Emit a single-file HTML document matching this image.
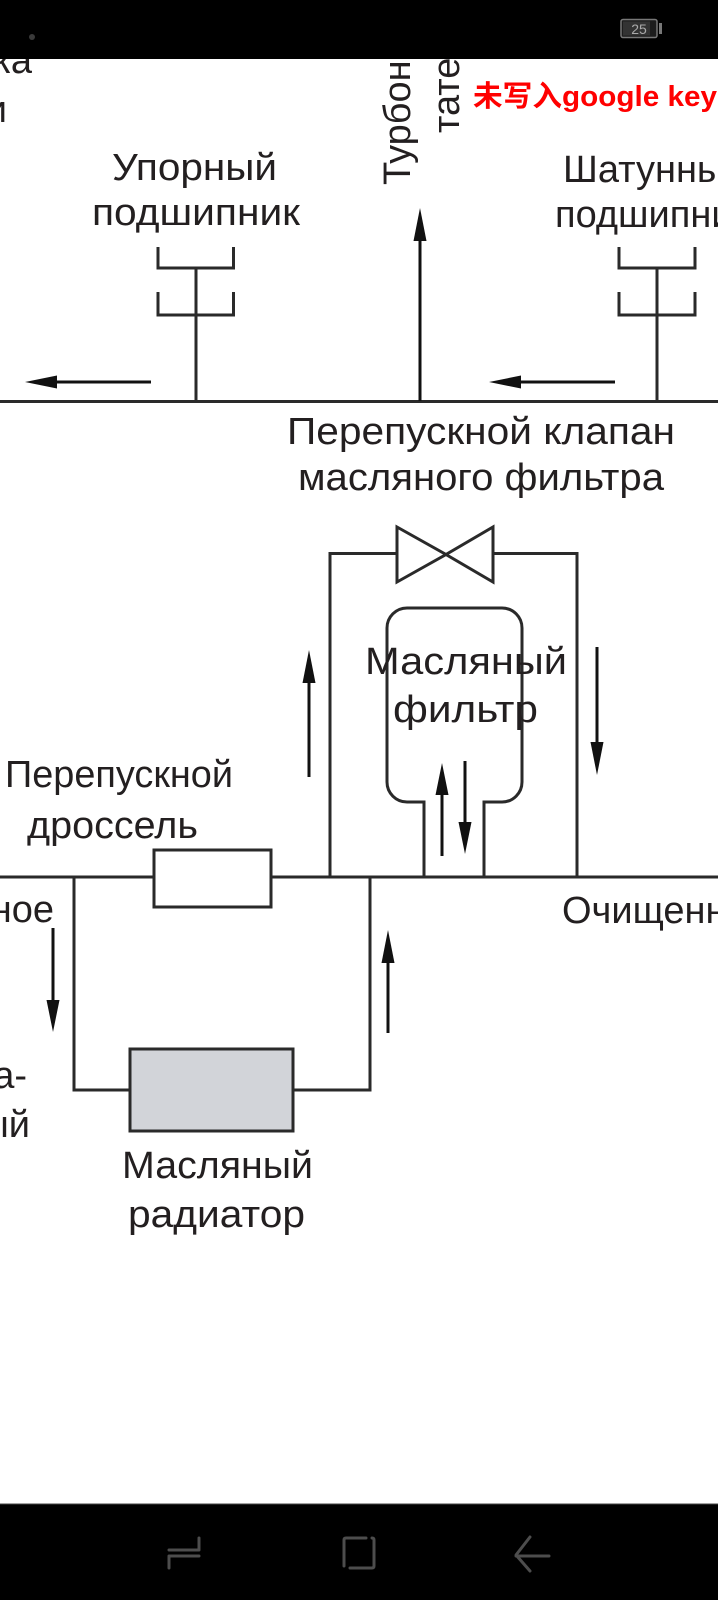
<!DOCTYPE html>
<html>
<head>
<meta charset="utf-8">
<style>
html,body{margin:0;padding:0;background:#fff;}
body{width:718px;height:1600px;overflow:hidden;}
svg{display:block;}
text{font-family:"Liberation Sans","Noto Sans CJK SC",sans-serif;fill:#231f20;font-size:38px;}
</style>
</head>
<body>
<svg width="718" height="1600" viewBox="0 0 718 1600" xmlns="http://www.w3.org/2000/svg">
<rect x="0" y="0" width="718" height="1600" fill="#fff"/>

<!-- top-left partial labels -->
<text x="32" y="73" text-anchor="end">Смазка</text>
<text x="7" y="122" text-anchor="end">и</text>

<!-- turbo vertical labels -->
<text transform="translate(410,185) rotate(-90)">Турбонагне-</text>
<text transform="translate(459,133) rotate(-90)">татель</text>

<!-- red text -->
<text x="473" y="106" textLength="244" lengthAdjust="spacingAndGlyphs" style="fill:#ff0000;font-size:29px;font-weight:bold;font-family:'Liberation Sans','Noto Sans CJK SC',sans-serif;">未写入google key</text>

<!-- bearing labels -->
<text x="112" y="180" textLength="165" lengthAdjust="spacingAndGlyphs">Упорный</text>
<text x="92" y="225" textLength="208" lengthAdjust="spacingAndGlyphs">подшипник</text>
<text x="563" y="182">Шатунный</text>
<text x="555" y="227">подшипник</text>

<g stroke="#2a2a2a" stroke-width="3" fill="none">
  <!-- upper main line -->
  <line x1="0" y1="401.5" x2="718" y2="401.5"/>
  <!-- left bearing -->
  <path d="M158,247 V268 H233.5 V247"/>
  <path d="M158,292 V315 H233.5 V292"/>
  <line x1="196" y1="268" x2="196" y2="401"/>
  <!-- right bearing -->
  <path d="M619,247 V268 H695 V247"/>
  <path d="M619,292 V315 H695 V292"/>
  <line x1="657" y1="268" x2="657" y2="401"/>

  <!-- lower main line -->
  <line x1="0" y1="877" x2="154" y2="877"/>
  <line x1="271" y1="877" x2="718" y2="877"/>
  <!-- bypass around filter -->
  <path d="M330,877 V553.5 H397"/>
  <path d="M493,553.5 H577 V877"/>
  <!-- valve -->
  <polygon points="397,527 397,582 446,554.5"/>
  <polygon points="493,527 493,582 446,554.5"/>
  <!-- filter -->
  <path d="M424,877 V802 H407 A20,20 0 0 1 387,782 V628 A20,20 0 0 1 407,608 H502 A20,20 0 0 1 522,628 V782 A20,20 0 0 1 502,802 H484 V877"/>
  <!-- radiator loop -->
  <path d="M74,877 V1090 H130"/>
  <path d="M293,1090 H370 V877"/>
</g>
<!-- throttle -->
<rect x="154" y="850" width="117" height="57" fill="#fff" stroke="#2a2a2a" stroke-width="3"/>
<!-- radiator -->
<rect x="130" y="1049" width="163" height="82" fill="#d2d4d9" stroke="#2a2a2a" stroke-width="3"/>

<!-- arrows -->
<g stroke="#111" stroke-width="3" fill="none">
  <line x1="420" y1="401" x2="420" y2="238"/>
  <line x1="56" y1="382" x2="151" y2="382"/>
  <line x1="520" y1="382" x2="615" y2="382"/>
  <line x1="309" y1="682" x2="309" y2="777"/>
  <line x1="597" y1="647" x2="597" y2="744"/>
  <line x1="442" y1="794" x2="442" y2="856"/>
  <line x1="465" y1="761" x2="465" y2="823"/>
  <line x1="53" y1="928" x2="53" y2="1001"/>
  <line x1="388" y1="962" x2="388" y2="1033"/>
</g>
<g fill="#111">
  <polygon points="420,208 413.5,241 426.5,241"/>
  <polygon points="25,382 57,375.5 57,388.5"/>
  <polygon points="489,382 521,375.5 521,388.5"/>
  <polygon points="309,650 302.5,683 315.5,683"/>
  <polygon points="597,775 590.5,742 603.5,742"/>
  <polygon points="442,763 435.5,795 448.5,795"/>
  <polygon points="465,854 458.5,822 471.5,822"/>
  <polygon points="53,1032 46.5,1000 59.5,1000"/>
  <polygon points="388,930 381.5,963 394.5,963"/>
</g>

<!-- labels -->
<text x="287" y="444" textLength="388" lengthAdjust="spacingAndGlyphs">Перепускной клапан</text>
<text x="298" y="490" textLength="366" lengthAdjust="spacingAndGlyphs">масляного фильтра</text>
<text x="365" y="674" textLength="202" lengthAdjust="spacingAndGlyphs">Масляный</text>
<text x="393" y="722" textLength="145" lengthAdjust="spacingAndGlyphs">фильтр</text>
<text x="5" y="787" textLength="228" lengthAdjust="spacingAndGlyphs">Перепускной</text>
<text x="27" y="838" textLength="171" lengthAdjust="spacingAndGlyphs">дроссель</text>
<text x="54" y="922" text-anchor="end">Неочищенное</text>
<text x="562" y="923">Очищенное</text>
<text x="27" y="1088" text-anchor="end">Масла-</text>
<text x="30" y="1137" text-anchor="end">ный</text>
<text x="122" y="1178" textLength="191" lengthAdjust="spacingAndGlyphs">Масляный</text>
<text x="128" y="1227" textLength="177" lengthAdjust="spacingAndGlyphs">радиатор</text>

<!-- status bar -->
<rect x="0" y="0" width="718" height="59" fill="#000"/>
<circle cx="32" cy="37" r="3" fill="#3a3a3a"/>
<rect x="621" y="19.5" width="36" height="18" rx="2" fill="#1c1c1c" stroke="#777" stroke-width="1.5"/>
<rect x="623" y="21.5" width="27" height="14" fill="#333"/>
<rect x="659" y="23" width="3" height="11" fill="#777"/>
<text x="639" y="34" text-anchor="middle" style="font-size:14px;fill:#aaa;">25</text>

<!-- nav bar -->
<rect x="0" y="1504" width="718" height="96" fill="#000"/>
<line x1="0" y1="1504" x2="718" y2="1504" stroke="#444" stroke-width="1"/>
<g stroke="#4d4d4d" stroke-width="3" fill="none" stroke-linecap="round" stroke-linejoin="round">
  <path d="M199,1538 V1550 H169"/>
  <path d="M199,1556 H169 V1568"/>
  <path d="M350,1568 H372 Q374,1568 374,1566 V1540 Q374,1538 372,1538"/>
  <path d="M366,1538 H346 Q344,1538 344,1540 V1566"/>
  <path d="M549,1556 H516"/>
  <path d="M530,1537 L516,1555 L530,1571"/>
</g>
</svg>
</body>
</html>
